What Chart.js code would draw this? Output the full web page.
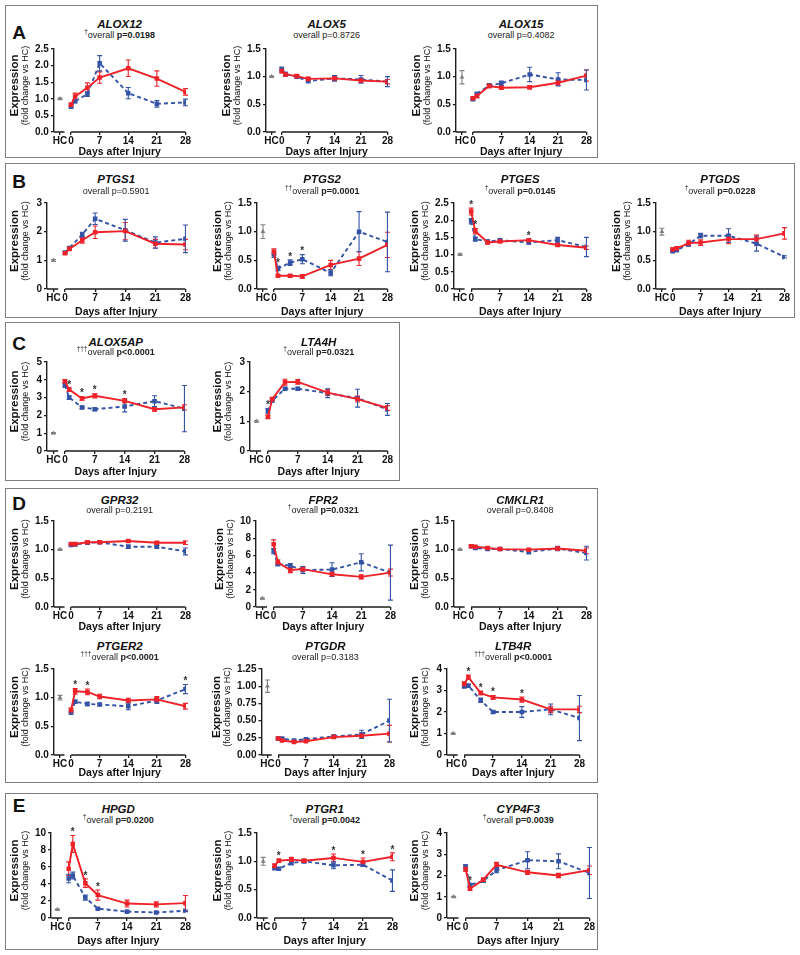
<!DOCTYPE html>
<html>
<head>
<meta charset="utf-8">
<script src="https://cdn.jsdelivr.net/npm/chart.js@4.4.1/dist/chart.umd.min.js"></script>
<style>
body{margin:0;background:#fff;font-family:'Liberation Sans',Arial,Helvetica,sans-serif;}
#page{position:relative;width:800px;height:955px;overflow:hidden;background:#fff}
.box{position:absolute;border:1.5px solid #7d7d7d;box-sizing:border-box}
.letter{position:absolute;font-weight:bold;font-size:19px;color:#111;transform:translate(-50%,-50%)}
.gene{position:absolute;font-weight:bold;font-style:italic;font-size:11.5px;color:#111;transform:translate(-50%,-50%);white-space:nowrap}
.sub{position:absolute;font-size:9px;color:#222;transform:translate(-50%,-50%);white-space:nowrap}
.sub sup{font-size:6.5px;vertical-align:4px;line-height:0}
canvas{position:absolute}
</style>
</head>
<body>
<div id="page"></div>
<script>
// sampling days after injury
const days = [0, 1, 4, 7, 14, 21, 28];
const xTickDays = [0, 7, 14, 21, 28];
const HC_POS = -2.7;   // HC sits left of the axis break

const genes = ['ALOX12', 'ALOX5', 'ALOX15',
               'PTGS1', 'PTGS2', 'PTGES', 'PTGDS',
               'ALOX5AP', 'LTA4H',
               'GPR32', 'FPR2', 'CMKLR1', 'PTGER2', 'PTGDR', 'LTB4R',
               'HPGD', 'PTGR1', 'CYP4F3'];
const daggers = [1, 0, 0, 0, 2, 1, 1, 3, 1, 0, 1, 0, 3, 0, 3, 1, 1, 1];
const pValues = ['p=0.0198', 'p=0.8726', 'p=0.4082',
                 'p=0.5901', 'p=0.0001', 'p=0.0145', 'p=0.0228',
                 'p<0.0001', 'p=0.0321',
                 'p=0.2191', 'p=0.0321', 'p=0.8408', 'p<0.0001', 'p=0.3183', 'p<0.0001',
                 'p=0.0200', 'p=0.0042', 'p=0.0039'];

// y axis ranges
const yMax  = [2.5, 1.5, 1.5, 3, 1.5, 2.5, 1.5, 5, 3, 1.5, 10, 1.5, 1.5, 1.25, 4, 10, 1.5, 4];
const yStep = [0.5, 0.5, 0.5, 1, 0.5, 0.5, 0.5, 1, 1, 0.5, 2, 0.5, 0.5, 0.25, 1, 2, 0.5, 1];

// red series (solid)
const redMean = [
  [0.82, 1.07, 1.33, 1.64, 1.92, 1.61, 1.21],
  [1.10, 1.04, 1.01, 0.96, 0.97, 0.93, 0.91],
  [0.61, 0.65, 0.83, 0.80, 0.81, 0.89, 1.02],
  [1.25, 1.40, 1.70, 1.98, 2.02, 1.58, 1.55],
  [0.65, 0.23, 0.23, 0.22, 0.42, 0.53, 0.77],
  [2.25, 1.68, 1.35, 1.38, 1.42, 1.28, 1.20],
  [0.69, 0.71, 0.80, 0.81, 0.87, 0.87, 0.97],
  [3.92, 3.45, 2.95, 3.10, 2.82, 2.35, 2.45],
  [1.15, 1.75, 2.32, 2.33, 1.97, 1.75, 1.45],
  [1.10, 1.10, 1.13, 1.13, 1.15, 1.12, 1.12],
  [7.3, 5.2, 4.3, 4.4, 3.8, 3.5, 4.0],
  [1.06, 1.05, 1.03, 1.01, 1.00, 1.02, 0.98],
  [0.78, 1.11, 1.10, 1.02, 0.95, 0.97, 0.85],
  [0.24, 0.21, 0.19, 0.20, 0.26, 0.28, 0.31],
  [3.30, 3.62, 2.88, 2.68, 2.58, 2.12, 2.12],
  [5.8, 8.7, 4.1, 2.7, 1.7, 1.6, 1.75],
  [0.92, 1.01, 1.03, 1.01, 1.06, 0.99, 1.08],
  [2.30, 1.38, 1.80, 2.50, 2.15, 2.00, 2.25]
];
const redSem = [
  [0.05, 0.10, 0.15, 0.17, 0.25, 0.23, 0.10],
  [0.03, 0.03, 0.03, 0.03, 0.04, 0.03, 0.04],
  [0.02, 0.03, 0.03, 0.03, 0.03, 0.05, 0.10],
  [0.04, 0.05, 0.10, 0.22, 0.30, 0.15, 0.18],
  [0.05, 0.02, 0.02, 0.03, 0.08, 0.12, 0.22],
  [0.10, 0.08, 0.04, 0.03, 0.04, 0.03, 0.05],
  [0.03, 0.03, 0.05, 0.05, 0.08, 0.07, 0.10],
  [0.10, 0.10, 0.10, 0.12, 0.12, 0.12, 0.15],
  [0.05, 0.05, 0.10, 0.08, 0.10, 0.10, 0.08],
  [0.02, 0.02, 0.02, 0.02, 0.02, 0.02, 0.03],
  [0.5, 0.3, 0.3, 0.3, 0.25, 0.25, 0.4],
  [0.02, 0.02, 0.02, 0.02, 0.02, 0.03, 0.05],
  [0.04, 0.05, 0.05, 0.04, 0.04, 0.05, 0.05],
  [0.02, 0.01, 0.01, 0.01, 0.02, 0.04, 0.12],
  [0.10, 0.10, 0.08, 0.08, 0.12, 0.15, 0.15],
  [0.8, 1.0, 0.5, 0.6, 0.4, 0.3, 0.9],
  [0.03, 0.03, 0.04, 0.03, 0.07, 0.07, 0.07],
  [0.10, 0.06, 0.08, 0.12, 0.10, 0.10, 0.20]
];

// blue series (dashed)
const blueMean = [
  [0.77, 0.93, 1.14, 2.07, 1.17, 0.85, 0.89],
  [1.14, 1.05, 1.00, 0.92, 0.97, 0.95, 0.91],
  [0.59, 0.69, 0.84, 0.88, 1.04, 0.95, 0.94],
  [1.27, 1.43, 1.90, 2.45, 2.05, 1.62, 1.75],
  [0.60, 0.36, 0.46, 0.52, 0.28, 1.00, 0.82],
  [1.97, 1.45, 1.38, 1.42, 1.35, 1.42, 1.22],
  [0.66, 0.68, 0.78, 0.93, 0.93, 0.79, 0.56],
  [3.70, 3.00, 2.45, 2.35, 2.50, 2.80, 2.38],
  [1.35, 1.70, 2.10, 2.10, 1.95, 1.78, 1.40],
  [1.08, 1.09, 1.12, 1.13, 1.05, 1.05, 0.97],
  [6.5, 5.0, 4.8, 4.3, 4.35, 5.2, 4.0],
  [1.06, 1.03, 1.01, 1.01, 0.96, 1.02, 0.94],
  [0.74, 0.93, 0.89, 0.88, 0.85, 0.95, 1.15],
  [0.24, 0.24, 0.21, 0.23, 0.27, 0.30, 0.50],
  [3.20, 3.22, 2.55, 2.00, 2.00, 2.12, 1.72],
  [4.65, 5.0, 2.4, 1.1, 0.75, 0.65, 0.85],
  [0.88, 0.87, 0.97, 1.00, 0.93, 0.94, 0.66],
  [2.42, 1.55, 1.75, 2.25, 2.72, 2.67, 2.12]
];
const blueSem = [
  [0.05, 0.05, 0.07, 0.23, 0.17, 0.10, 0.10],
  [0.03, 0.03, 0.02, 0.03, 0.05, 0.07, 0.09],
  [0.02, 0.02, 0.03, 0.04, 0.13, 0.12, 0.18],
  [0.03, 0.04, 0.08, 0.20, 0.38, 0.20, 0.48],
  [0.05, 0.04, 0.05, 0.08, 0.05, 0.35, 0.52],
  [0.08, 0.05, 0.04, 0.03, 0.04, 0.08, 0.28],
  [0.02, 0.03, 0.03, 0.04, 0.12, 0.13, 0.02],
  [0.12, 0.10, 0.08, 0.08, 0.30, 0.30, 1.30],
  [0.08, 0.05, 0.05, 0.05, 0.15, 0.30, 0.20],
  [0.02, 0.02, 0.02, 0.02, 0.03, 0.02, 0.06],
  [0.3, 0.2, 0.25, 0.4, 0.8, 1.0, 3.2],
  [0.02, 0.02, 0.02, 0.02, 0.03, 0.04, 0.12],
  [0.03, 0.03, 0.03, 0.02, 0.06, 0.05, 0.08],
  [0.01, 0.01, 0.01, 0.01, 0.02, 0.06, 0.31],
  [0.08, 0.08, 0.10, 0.07, 0.25, 0.25, 1.05],
  [0.5, 0.4, 0.3, 0.1, 0.05, 0.05, 0.1],
  [0.02, 0.02, 0.03, 0.03, 0.06, 0.03, 0.19],
  [0.08, 0.05, 0.06, 0.12, 0.40, 0.35, 1.20]
];

// healthy controls
const hcMean = [1, 1, 0.99, 1, 1, 1, 1, 1, 1, 1, 1, 1, 1, 1, 1, 1, 1, 1];
const hcSem  = [0.02, 0.01, 0.12, 0.03, 0.12, 0.02, 0.06, 0.03, 0.02, 0.01, 0.05, 0.01, 0.04, 0.09, 0.02, 0.05, 0.07, 0.02];

// significance stars (index into days)
const starIdx = [[], [], [], [], [1, 2, 3], [0, 1, 4], [], [1, 2, 3, 4], [0],
                 [], [], [], [1, 2, 6], [], [1, 2, 3, 4], [1, 2, 3], [1, 4, 5, 6], [1]];

// ---- layout (page pixels) ----
const boxes = [
  {id: 'A', l: 5, t: 5, r: 598, b: 158, ly: 33},
  {id: 'B', l: 5, t: 163, r: 795, b: 318, ly: 182},
  {id: 'C', l: 5, t: 322, r: 400, b: 481, ly: 344},
  {id: 'D', l: 5, t: 488, r: 598, b: 783, ly: 504},
  {id: 'E', l: 5, t: 793, r: 598, b: 950, ly: 806}
];
const rows = {
  A:  {title: 24,  sub: 35,  plotTop: 47,  plotBot: 132, xTitle: 152},
  B:  {title: 179, sub: 191, plotTop: 201, plotBot: 289, xTitle: 312},
  C:  {title: 342, sub: 352, plotTop: 360, plotBot: 451, xTitle: 472},
  D1: {title: 500, sub: 510, plotTop: 519, plotBot: 607, xTitle: 627},
  D2: {title: 646, sub: 657, plotTop: 667, plotBot: 755, xTitle: 773},
  E:  {title: 809, sub: 820, plotTop: 831, plotBot: 918, xTitle: 941}
};
const chartRow = ['A', 'A', 'A', 'B', 'B', 'B', 'B', 'C', 'C',
                  'D1', 'D1', 'D1', 'D2', 'D2', 'D2', 'E', 'E', 'E'];
const exprX = [15, 227, 417, 15, 218, 415, 617, 15, 218, 15, 220, 415, 15, 217, 415, 15, 218, 415];
const plotRight = [183, 385, 584, 183, 385, 584, 782, 182, 385, 183, 388, 584, 183, 387, 577, 183, 390, 587];

const FONT = "'Liberation Sans', Arial, Helvetica, sans-serif";
const RED = '#ee2228';
const BLUE = '#3453a6';
const GREY = '#808080';
const AXIS = '#1e1e1e';
const X_MIN = -4.2;
const HC_END = -1.6;

const page = document.getElementById('page');

boxes.forEach(b => {
  const d = document.createElement('div');
  d.className = 'box';
  d.style.left = b.l + 'px'; d.style.top = b.t + 'px';
  d.style.width = (b.r - b.l) + 'px'; d.style.height = (b.b - b.t) + 'px';
  page.appendChild(d);
  const L = document.createElement('div');
  L.className = 'letter';
  L.textContent = b.id;
  L.style.left = '19px'; L.style.top = b.ly + 'px';
  page.appendChild(L);
});

// error bars drawn under the markers
const errorBars = {
  id: 'errorBars',
  beforeDatasetsDraw(chart) {
    const ctx = chart.ctx, xs = chart.scales.x, ys = chart.scales.y;
    chart.data.datasets.forEach(ds => {
      ctx.save();
      ctx.strokeStyle = ds.borderColor;
      ctx.lineWidth = 1.1;
      ds.data.forEach((p, k) => {
        const e = ds.errors[k];
        const x = xs.getPixelForValue(p.x);
        const y1 = ys.getPixelForValue(p.y + e);
        const y2 = ys.getPixelForValue(p.y - e);
        ctx.beginPath();
        ctx.moveTo(x, y1); ctx.lineTo(x, y2);
        ctx.moveTo(x - 2.5, y1); ctx.lineTo(x + 2.5, y1);
        ctx.moveTo(x - 2.5, y2); ctx.lineTo(x + 2.5, y2);
        ctx.stroke();
      });
      ctx.restore();
    });
  }
};

// broken x axis, y axis titles and stars
const decorations = {
  id: 'decorations',
  afterDraw(chart, args, opts) {
    const ctx = chart.ctx, xs = chart.scales.x, ys = chart.scales.y, ca = chart.chartArea;
    ctx.save();
    ctx.strokeStyle = AXIS;
    ctx.lineWidth = 1.4;
    ctx.beginPath();
    ctx.moveTo(ca.left, ca.bottom); ctx.lineTo(xs.getPixelForValue(HC_END), ca.bottom);
    ctx.moveTo(xs.getPixelForValue(0), ca.bottom); ctx.lineTo(xs.getPixelForValue(28), ca.bottom);
    ctx.stroke();

    // stars
    ctx.fillStyle = '#333';
    ctx.font = 'bold 10px ' + FONT;
    ctx.textAlign = 'center';
    ctx.textBaseline = 'middle';
    const red = chart.data.datasets[0], blue = chart.data.datasets[1];
    opts.stars.forEach(k => {
      const top = Math.max(red.data[k].y + red.errors[k], blue.data[k].y + blue.errors[k]);
      ctx.fillText('*', xs.getPixelForValue(days[k]), ys.getPixelForValue(top) - 3);
    });

    // y title, two lines
    const cy = (ca.top + ca.bottom) / 2 - 5;
    ctx.fillStyle = '#111';
    ctx.translate(12, cy);
    ctx.rotate(-Math.PI / 2);
    ctx.font = 'bold 11.5px ' + FONT;
    ctx.fillText('Expression', 0, 0);
    ctx.font = '9px ' + FONT;
    ctx.fillText('(fold change vs HC)', 0, 11);
    ctx.restore();
  }
};

function series(i, mean, sem, color, dash) {
  return {
    data: days.map((d, k) => ({x: d, y: mean[i][k]})),
    errors: sem[i],
    borderColor: color,
    backgroundColor: color,
    borderWidth: 1.9,
    borderDash: dash,
    pointStyle: 'rect',
    pointRadius: 3.2,
    pointBorderWidth: 0,
    tension: 0
  };
}

genes.forEach((gene, i) => {
  const row = rows[chartRow[i]];
  const left = exprX[i] - 12;
  const top = row.plotTop - 6;
  const width = plotRight[i] - left + 8;
  const height = row.xTitle + 6 - top;
  const xAxisH = top + height - row.plotBot;
  const dec = yStep[i] >= 1 ? 0 : (yStep[i] === 0.25 ? 2 : 1);

  const cv = document.createElement('canvas');
  cv.width = width; cv.height = height;
  cv.style.left = left + 'px'; cv.style.top = top + 'px';
  page.appendChild(cv);

  const chart = new Chart(cv, {
    type: 'line',
    data: {
      datasets: [
        series(i, redMean, redSem, RED, []),
        series(i, blueMean, blueSem, BLUE, [4, 3]),
        {
          data: [{x: HC_POS, y: hcMean[i]}],
          errors: [hcSem[i]],
          borderColor: GREY, backgroundColor: GREY,
          showLine: false, pointStyle: 'triangle', pointRadius: 2.8, pointBorderWidth: 0
        }
      ]
    },
    options: {
      responsive: false,
      animation: false,
      layout: {padding: {left: 30, right: 2, top: 0, bottom: 0}},
      plugins: {legend: {display: false}, tooltip: {enabled: false}, decorations: {stars: starIdx[i]}},
      scales: {
        x: {
          type: 'linear', min: X_MIN, max: 28,
          afterBuildTicks: s => { s.ticks = [HC_POS].concat(xTickDays).map(v => ({value: v})); },
          afterFit: s => { s.height = xAxisH; },
          ticks: {
            callback: v => v === HC_POS ? 'HC' : String(v),
            autoSkip: false, maxRotation: 0, padding: 0, color: '#111',
            font: {family: FONT, size: 10, weight: 'bold'}
          },
          grid: {drawOnChartArea: false, drawTicks: true, tickLength: 3, color: AXIS, lineWidth: 1.3},
          border: {display: false},
          title: {display: true, text: 'Days after Injury', color: '#111',
                  font: {family: FONT, size: 10.5, weight: 'bold'}, padding: {top: 0, bottom: 0}}
        },
        y: {
          min: 0, max: yMax[i],
          afterFit: s => { s.width = Math.max(s.width, 14); },
          ticks: {
            stepSize: yStep[i], padding: 2, color: '#111',
            callback: v => Number(v).toFixed(dec),
            font: {family: FONT, size: 10, weight: 'bold'}
          },
          grid: {drawOnChartArea: false, drawTicks: true, tickLength: 3, color: AXIS, lineWidth: 1.3},
          border: {display: true, color: AXIS, width: 1.4}
        }
      }
    },
    plugins: [errorBars, decorations]
  });

  const ca = chart.chartArea;
  const cx = left + (ca.left + ca.right) / 2;
  const t = document.createElement('div');
  t.className = 'gene';
  t.textContent = gene;
  t.style.left = cx + 'px'; t.style.top = row.title + 'px';
  page.appendChild(t);
  const s = document.createElement('div');
  s.className = 'sub';
  const dg = daggers[i] ? '<sup>' + '\u2020'.repeat(daggers[i]) + '</sup>' : '';
  const pv = daggers[i] ? '<b>' + pValues[i] + '</b>' : pValues[i];
  s.innerHTML = dg + 'overall ' + pv;
  s.style.left = cx + 'px'; s.style.top = row.sub + 'px';
  page.appendChild(s);
});
</script>
</body>
</html>
